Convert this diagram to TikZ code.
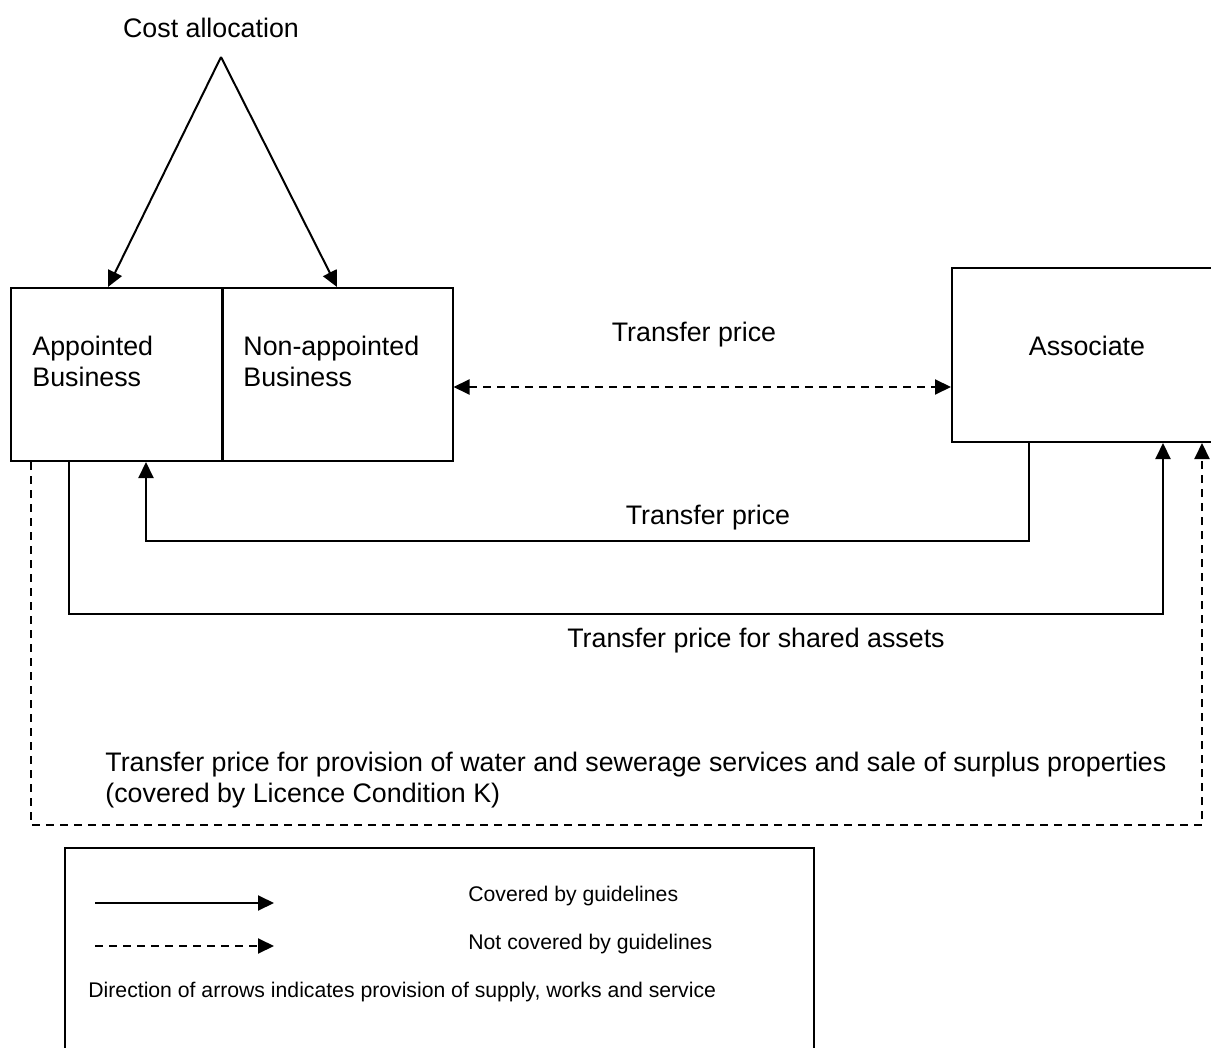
\documentclass[tikz,border=0pt]{standalone}
\usepackage{fontspec}
\setmainfont{Liberation Sans}
\usetikzlibrary{arrows.meta,positioning,calc}

\begin{document}
\begin{tikzpicture}[
			x=0.5pt, y=-0.5pt,
			bizbox/.style={draw, line width=1pt, rectangle, inner sep=0pt},
			boxtext/.style={inner sep=0pt, align=left, anchor=west, font=\fontsize{13.4}{15.5}\selectfont},
			maintext/.style={inner sep=0pt, font=\fontsize{13.4}{15.5}\selectfont},
			keytext/.style={inner sep=0pt, anchor=west, font=\fontsize{10.6}{12}\selectfont},
			covered/.style={line width=1pt, -{Triangle[length=8pt,width=7.5pt]}},
			notcovered/.style={line width=1pt, dash pattern=on 4pt off 3pt, -{Triangle[length=8pt,width=7.5pt]}}
			]
			\clip (0,0) rectangle (1211,1048);
			
			% Businesses
			\node[bizbox, minimum width=105.5pt, minimum height=86.5pt] (AB) at (116.5,374.5) {};
			\node[bizbox, minimum width=115pt, minimum height=86.5pt] (NAB) at (337.5,374.5) {};
			\node[bizbox, minimum width=139pt, minimum height=87pt] (Assoc) at (1091,355) {};
			\node[boxtext] (ABtext) at (32,361) {Appointed\\Business};
			\node[boxtext] (NABtext) at (243,361) {Non-appointed\\Business};
			\node[maintext] (Assoctext) at (1087,346) {Associate};
			
			% Cost allocation
			\node[maintext] (Cost) at (211,28) {Cost allocation};
			\coordinate (apex) at (221,57);
			\draw[covered] (apex) -- (AB.north -| 108,0);
			\draw[covered] (apex) -- (NAB.north -| 337,0);
			
			% Transfer prices
			\draw[notcovered, {Triangle[length=8pt,width=7.5pt]}-{Triangle[length=8pt,width=7.5pt]}] (NAB.east |- 0,387) -- (Assoc.west |- 0,387);
			\node[maintext] (TP1) at (694,335) {Transfer price};
			
			\draw[covered] (Assoc.south -| 1029,0) |- (146,541) -- (AB.south -| 146,0);
			\node[maintext] (TP2) at (708,518) {Transfer price};
			
			\draw[covered] (AB.south -| 69,0) |- (1163,614) -- (Assoc.south -| 1163,0);
			\node[maintext] (TP3) at (756,641) {Transfer price for shared assets};
			
			\draw[notcovered] (AB.south -| 31,0) |- (1202,825) -- (Assoc.south -| 1202,0);
			\node[boxtext] (TP4) at (105,780) {Transfer price for provision of water and sewerage services and sale of surplus properties\\(covered by Licence Condition K)};
			
			% Key
			\node[bizbox, minimum width=374.5pt, minimum height=106pt] (Key) at (439.5,954) {};
			\coordinate (solidstart) at (95,903);
			\coordinate (solidend) at (274,903);
			\coordinate (dashstart) at (95,946);
			\coordinate (dashend) at (274,946);
			\draw[covered] (solidstart) -- (solidend);
			\draw[notcovered] (dashstart) -- (dashend);
			\node[keytext] (KeyA) at (468,896) {Covered by guidelines};
			\node[keytext] (KeyB) at (468,944) {Not covered by guidelines};
			\node[keytext] (KeyC) at (88,992) {Direction of arrows indicates provision of supply, works and service};
			
		\end{tikzpicture}
\end{document}
